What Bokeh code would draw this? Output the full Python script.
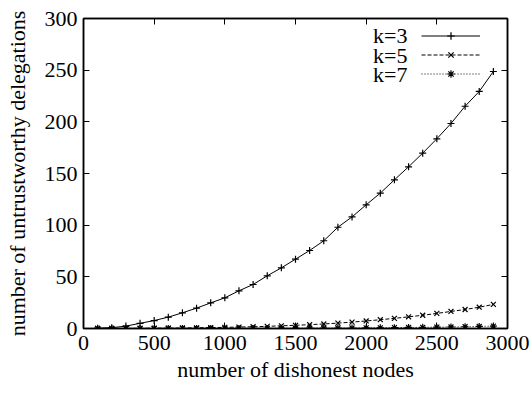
from bokeh.plotting import figure
from bokeh.models import (Range1d, LinearAxis, FixedTicker, Legend, LegendItem,
                          Label, ColumnDataSource)
from bokeh.embed import file_html
from bokeh.resources import INLINE

nodes = [100, 200, 300, 400, 500, 600, 700, 800, 900, 1000, 1100, 1200, 1300, 1400,
         1500, 1600, 1700, 1800, 1900, 2000, 2100, 2200, 2300, 2400, 2500, 2600,
         2700, 2800, 2900]
k3 = [0.3, 0.8, 2.3, 5.0, 7.7, 11.0, 15.2, 19.7, 24.8, 29.7, 36.5, 42.6, 51.0, 58.7,
      67.1, 75.5, 84.9, 98.0, 108.0, 119.7, 131.0, 143.9, 156.5, 169.7, 183.6, 198.4,
      215.1, 229.4, 248.7]
k5 = [0.0, 0.1, 0.1, 0.2, 0.3, 0.4, 0.5, 0.7, 0.9, 1.1, 1.4, 1.7, 2.1, 2.6,
      3.1, 3.7, 4.4, 5.2, 6.2, 7.3, 8.5, 9.8, 11.3, 12.8, 14.6, 16.5,
      18.4, 20.6, 23.3]
k7 = [0.0, 0.0, 0.0, 0.0, 0.0, 0.0, 0.0, 0.0, 0.0, 0.1, 0.1, 0.1, 0.1, 0.2,
      0.2, 0.3, 0.3, 0.4, 0.5, 0.6, 0.7, 0.8, 1.0, 1.1, 1.3, 1.5,
      1.7, 2.0, 2.3]
series_labels = ["k=3", "k=5", "k=7"]
x_ticks = [0, 500, 1000, 1500, 2000, 2500, 3000]
y_ticks = [0, 50, 100, 150, 200, 250, 300]

FONT = "'Liberation Serif'"
FS = "22px"

p = figure(width=530, height=393, output_backend="svg", toolbar_location=None,
           x_range=Range1d(0, 3000), y_range=Range1d(0, 300),
           min_border_left=83, min_border_right=23, min_border_top=18,
           min_border_bottom=65)
p.grid.visible = False
p.outline_line_color = "black"
p.outline_line_width = 1.5
p.background_fill_color = "white"
p.border_fill_color = "white"

def style_axis(ax, labels=True):
    ax.major_tick_in = 6
    ax.major_tick_out = 0
    ax.minor_tick_in = 0
    ax.minor_tick_out = 0
    ax.axis_line_color = "black"
    ax.axis_line_width = 1.5
    ax.major_tick_line_color = "black"
    ax.major_tick_line_width = 1
    if labels:
        ax.major_label_text_font = FONT
        ax.major_label_text_font_size = FS
        ax.major_label_text_color = "black"
        ax.axis_label_text_font = FONT
        ax.axis_label_text_font_size = FS
        ax.axis_label_text_font_style = "normal"
        ax.axis_label_text_color = "black"
    else:
        ax.major_label_overrides = {t: "" for t in ax.ticker.ticks}
        ax.major_label_standoff = 0

p.xaxis.ticker = FixedTicker(ticks=x_ticks)
p.yaxis.ticker = FixedTicker(ticks=y_ticks)
p.xaxis.axis_label = "number of dishonest nodes"
p.yaxis.axis_label = "number of untrustworthy delegations"
style_axis(p.xaxis[0])
style_axis(p.yaxis[0])
p.xaxis.major_label_standoff = 7
p.yaxis.major_label_standoff = 6
p.xaxis.axis_label_standoff = 4
p.yaxis.axis_label_standoff = 12

top = LinearAxis(ticker=FixedTicker(ticks=x_ticks))
right = LinearAxis(ticker=FixedTicker(ticks=y_ticks))
style_axis(top, labels=False)
style_axis(right, labels=False)
p.add_layout(top, "above")
p.add_layout(right, "right")

src = ColumnDataSource(dict(x=nodes, k3=k3, k5=k5, k7=k7))

l3 = p.line("x", "k3", source=src, line_color="black", line_width=1)
m3 = p.scatter("x", "k3", source=src, marker="cross", size=7, line_color="black", line_width=1.2)
l5 = p.line("x", "k5", source=src, line_color="black", line_width=1, line_dash="4 2")
m5 = p.scatter("x", "k5", source=src, marker="x", size=7, line_color="black", line_width=1.2)
l7 = p.line("x", "k7", source=src, line_color="black", line_width=1, line_dash="1 2")
m7 = p.scatter("x", "k7", source=src, marker="asterisk", size=7, line_color="black", line_width=1.2)

legend = Legend(items=[LegendItem(label="", renderers=[l3, m3]),
                       LegendItem(label="", renderers=[l5, m5]),
                       LegendItem(label="", renderers=[l7, m7])],
                location=(338, 245), glyph_width=59, glyph_height=19, spacing=0,
                padding=0, margin=0, label_width=0, label_standoff=0,
                border_line_color=None, background_fill_alpha=0)
p.add_layout(legend, "center")

for i, lab in enumerate(series_labels):
    p.add_layout(Label(x=324, y=293 - 19.5 * i, x_units="screen", y_units="screen",
                       text=lab, text_font=FONT, text_font_size=FS,
                       text_align="right", text_baseline="middle", text_color="black"))

open("out.html", "w").write(file_html(p, INLINE))
